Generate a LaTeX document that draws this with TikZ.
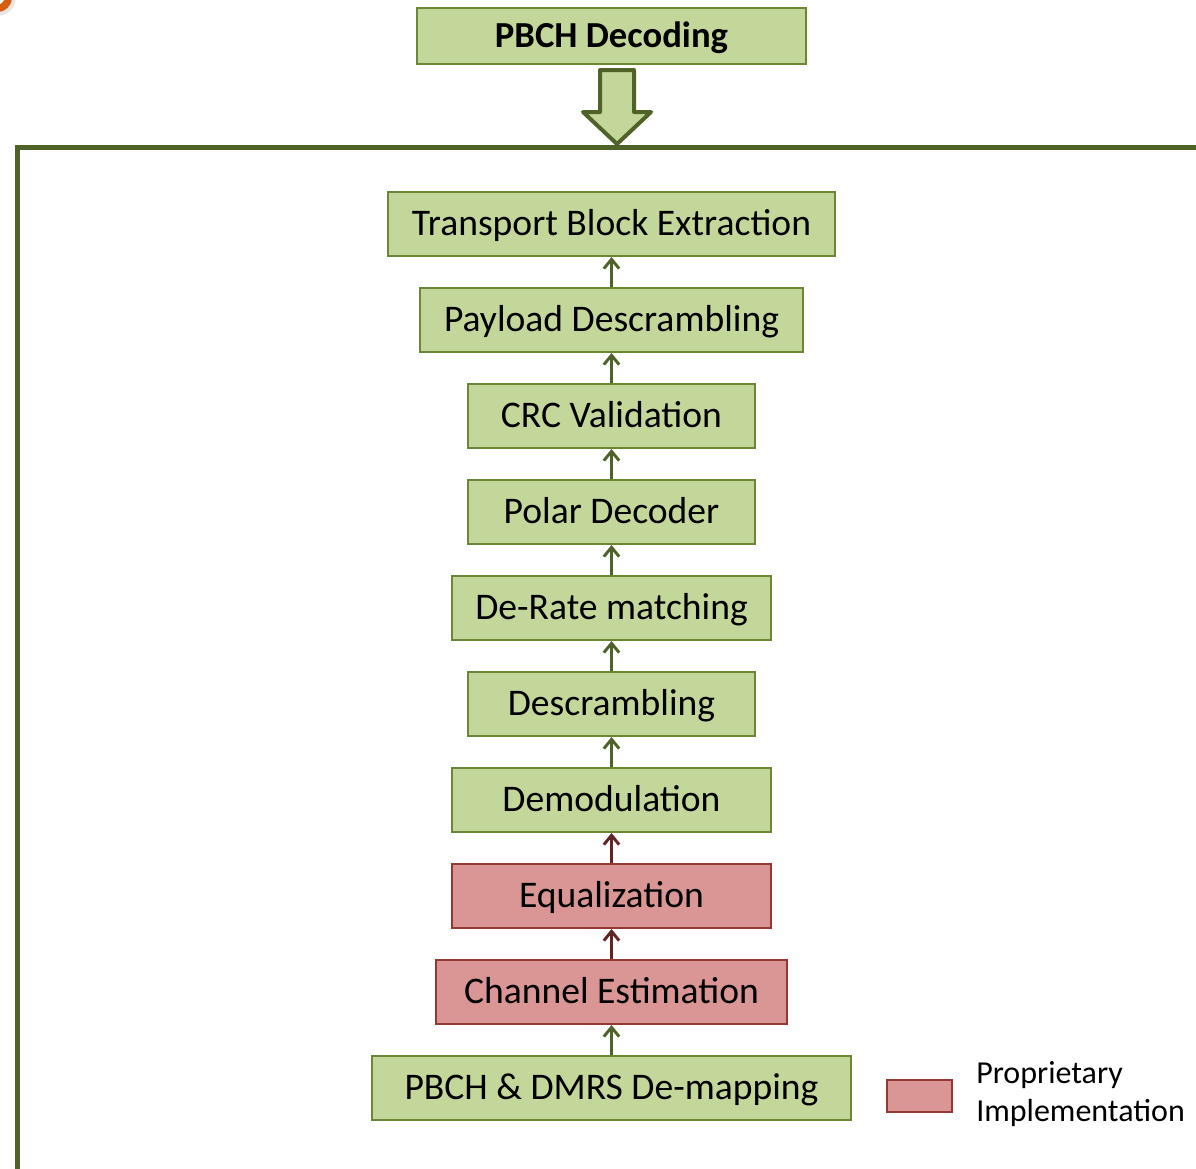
\documentclass[tikz,border=0pt]{standalone}
\usepackage{fontspec}
\setmainfont{Carlito}
\usetikzlibrary{arrows.meta}

\definecolor{stepfill}{HTML}{C4D79B}
\definecolor{stepline}{HTML}{6B8734}
\definecolor{olive}{HTML}{4F6228}
\definecolor{propfill}{HTML}{D99694}
\definecolor{propline}{HTML}{953735}
\definecolor{propconn}{HTML}{632523}
\definecolor{badge}{HTML}{D45F10}

\tikzset{
  stepbox/.style={draw=stepline, fill=stepfill, line width=1.5pt,
    minimum height={64*0.75pt}, inner sep=0pt,
    font=\fontsize{28.2}{34}\selectfont, text height=17.8pt, text depth=0pt},
  propbox/.style={stepbox, draw=propline, fill=propfill},
  conn/.style={draw=olive, line width=2.3pt,
    -{Straight Barb[length=7pt,width=11.5pt,line width=2.2pt]}},
  propconn/.style={conn, draw=propconn},
  legendtext/.style={inner sep=0pt, anchor=base west,
    font=\fontsize{24}{29}\selectfont}
}

\begin{document}
\begin{tikzpicture}[x=0.75pt, y=-0.75pt]
\useasboundingbox (0,0) rectangle (1196,1168);
\clip (0,0) rectangle (1196,1168);

% small badge in the corner
\draw[line width=6pt, black!10] (-3,-3) circle (15);
\draw[line width=5.5pt, badge] (-3,-3) circle (11.5);

% title
\node[stepbox, minimum width={389*0.75pt}, minimum height={56*0.75pt},
      font=\fontsize{27.5}{33}\selectfont\bfseries, text height=17.4pt] (title) at (611.5,36) {PBCH Decoding};

% enclosing frame
\draw[olive, line width=3.75pt] (17.5,1200) -- (17.5,147.5) -- (1220,147.5);

% block arrow from the title into the frame
\draw[olive, fill=stepfill, line width=3pt, line join=round]
  (600,70) -- (634,70) -- (634,112) -- (651,112) -- (617,144)
  -- (583,112) -- (600,112) -- cycle;

% processing chain
\node[stepbox, minimum width={447*0.75pt}] (tbe)  at (611.5,224)  {Transport Block Extraction};
\node[stepbox, minimum width={383*0.75pt}] (pd)   at (611.5,320)  {Payload Descrambling};
\node[stepbox, minimum width={287*0.75pt}] (crc)  at (611.5,416)  {CRC Validation};
\node[stepbox, minimum width={287*0.75pt}] (pol)  at (611.5,512)  {Polar Decoder};
\node[stepbox, minimum width={319*0.75pt}] (drm)  at (611.5,608)  {De-Rate matching};
\node[stepbox, minimum width={287*0.75pt}] (desc) at (611.5,704)  {Descrambling};
\node[stepbox, minimum width={319*0.75pt}] (dem)  at (611.5,800)  {Demodulation};
\node[propbox, minimum width={319*0.75pt}] (eq)   at (611.5,896)  {Equalization};
\node[propbox, minimum width={351*0.75pt}] (ce)   at (611.5,992)  {Channel Estimation};
\node[stepbox, minimum width={479*0.75pt}] (dmap) at (611.5,1088) {PBCH \& DMRS De-mapping};

\draw[conn]     (dmap.north) -- (ce.south);
\draw[propconn] (ce.north)   -- (eq.south);
\draw[propconn] (eq.north)   -- (dem.south);
\draw[conn]     (dem.north)  -- (desc.south);
\draw[conn]     (desc.north) -- (drm.south);
\draw[conn]     (drm.north)  -- (pol.south);
\draw[conn]     (pol.north)  -- (crc.south);
\draw[conn]     (crc.north)  -- (pd.south);
\draw[conn]     (pd.north)   -- (tbe.south);

% legend
\node[draw=propline, fill=propfill, line width=1.5pt, inner sep=0pt,
      minimum width={65*0.75pt}, minimum height={32*0.75pt}] (legbox) at (919.5,1096) {};
\node[legendtext] (leg1) at (976,1083) {Proprietary};
\node[legendtext] (leg2) at (976,1121) {Implementation};
\end{tikzpicture}
\end{document}
